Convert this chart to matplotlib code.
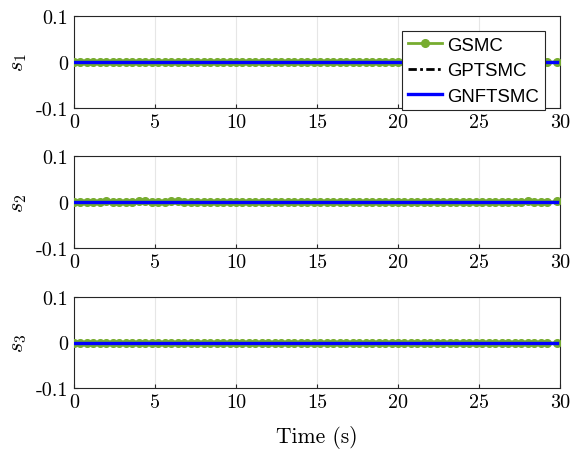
import matplotlib
matplotlib.use("Agg")
import matplotlib.pyplot as plt

plt.rcParams['mathtext.fontset'] = 'cm'
plt.rcParams['axes.unicode_minus'] = False

# ---- data ----
t = [0.0, 0.4, 0.8, 1.2, 1.6, 2.0, 2.4, 2.8, 3.2, 3.6, 4.0, 4.4, 4.8, 5.2, 5.6,
     6.0, 6.4, 6.8, 7.2, 7.6, 8.0, 8.4, 8.8, 9.2, 9.6, 10.0, 10.4, 10.8, 11.2, 11.6,
     12.0, 12.4, 12.8, 13.2, 13.6, 14.0, 14.4, 14.8, 15.2, 15.6, 16.0, 16.4, 16.8, 17.2, 17.6,
     18.0, 18.4, 18.8, 19.2, 19.6, 20.0, 20.4, 20.8, 21.2, 21.6, 22.0, 22.4, 22.8, 23.2, 23.6,
     24.0, 24.4, 24.8, 25.2, 25.6, 26.0, 26.4, 26.8, 27.2, 27.6, 28.0, 28.4, 28.8, 29.2, 29.8]

gsmc_s1 = [0.0, -0.0005, -0.0005, -0.0005, -0.0005, -0.0005, -0.0005, -0.0005, -0.0005, -0.0005,
           -0.0005, -0.0005, -0.0005, -0.0005, -0.0005, -0.0005, -0.0005, -0.0005, -0.0005, -0.0005,
           -0.0005, -0.0005, -0.0005, -0.0005, -0.0005, -0.0005, -0.0005, -0.0005, -0.0005, -0.0005,
           -0.0005, -0.0005, -0.0005, -0.0005, -0.0005, -0.0005, -0.0005, -0.0005, -0.0005, -0.0005,
           -0.0005, -0.0005, -0.0005, -0.0005, -0.0005, -0.0005, -0.0005, -0.0005, -0.0005, -0.0005,
           -0.0005, -0.0005, -0.0005, -0.0005, -0.0005, -0.0005, -0.0005, -0.0005, -0.0005, -0.0005,
           -0.0005, -0.0005, -0.0005, -0.0005, -0.0005, -0.0005, -0.0005, -0.0005, -0.0005, -0.0005,
           -0.0005, -0.0005, -0.0005, -0.0005, 0.0]

gsmc_s2 = [0.0, -0.001, -0.001, -0.0005, -0.0005, 0.002, -0.0005, -0.001, -0.0005, 0.0005,
           0.002, 0.0015, -0.0005, -0.001, -0.0005, 0.002, 0.0015, -0.0005, -0.001, -0.0005,
           -0.001, -0.0005, -0.001, -0.0005, -0.001, -0.0005, -0.001, -0.0005, -0.001, -0.0005,
           -0.001, -0.0005, -0.001, -0.0005, -0.001, -0.0005, -0.001, -0.0005, -0.001, -0.0005,
           -0.001, -0.0005, -0.001, -0.0005, -0.001, -0.0005, -0.001, -0.0005, -0.001, -0.0005,
           -0.001, -0.0005, -0.001, -0.0005, -0.001, -0.0005, -0.001, -0.0005, -0.001, -0.0005,
           -0.001, -0.0005, -0.001, -0.0005, -0.001, -0.0005, -0.001, -0.0005, -0.0005, 0.0005,
           0.002, -0.0005, -0.001, -0.0005, 0.0015]

gsmc_s3 = [0.0, -0.001, -0.001, -0.001, -0.001, -0.001, -0.001, -0.001, -0.001, -0.001,
           -0.001, -0.001, -0.001, -0.001, -0.001, -0.001, -0.001, -0.001, -0.001, -0.001,
           -0.001, -0.001, -0.001, -0.001, -0.001, -0.001, -0.001, -0.001, -0.001, -0.001,
           -0.001, -0.001, -0.001, -0.001, -0.001, -0.001, -0.001, -0.001, -0.001, -0.001,
           -0.001, -0.001, -0.001, -0.001, -0.001, -0.001, -0.001, -0.001, -0.001, -0.001,
           -0.001, -0.001, -0.001, -0.001, -0.001, -0.001, -0.001, -0.001, -0.001, -0.001,
           -0.001, -0.001, -0.001, -0.001, -0.001, -0.001, -0.001, -0.001, -0.001, -0.001,
           -0.001, -0.001, -0.001, -0.001, -0.001]

t_ref = [0.0, 29.8]
gptsmc = [[0.0, 0.0], [0.0, 0.0], [0.0, 0.0]]
gnftsmc = [[0.0, 0.0], [0.0, 0.0], [0.0, 0.0]]
gsmc = [gsmc_s1, gsmc_s2, gsmc_s3]

ylabels = [r'$s_1$', r'$s_2$', r'$s_3$']
xticks = [0, 5, 10, 15, 20, 25, 30]
yticks = [-0.1, 0, 0.1]
yticklabels = ['-0.1', '0', '0.1']
series_names = ['GSMC', 'GPTSMC', 'GNFTSMC']

# ---- figure ----
W, H = 577, 452
fig = plt.figure(figsize=(W / 100, H / 100), dpi=100)

boxes = [(17, 109), (157, 249), (298, 389)]
left, right = 74, 560
axc = '#262626'
green = '#77AC30'

for i, (top, bot) in enumerate(boxes):
    ax = fig.add_axes([left / W, 1 - bot / H, (right - left) / W, (bot - top) / H])
    l1, = ax.plot(t, gsmc[i], color=green, lw=2.0, marker='o', markersize=5.5,
                  markerfacecolor=green, markeredgecolor=green, label=series_names[0], zorder=3)
    l2, = ax.plot(t_ref, gptsmc[i], color='black', lw=2.0, ls=(0, (3, 1.2, 1, 1.2)),
                  label=series_names[1], zorder=4)
    l3, = ax.plot(t_ref, gnftsmc[i], color='#0000FF', lw=2.4, label=series_names[2], zorder=5)
    ax.set_xlim(0, 30)
    ax.set_ylim(-0.1, 0.1)
    ax.set_xticks(xticks)
    ax.set_xticklabels([str(v) for v in xticks], fontfamily='cmr10', fontsize=14.5)
    ax.set_yticks(yticks)
    ax.set_yticklabels(yticklabels, fontfamily='cmr10', fontsize=14.5)
    ax.grid(True, color='#e6e6e6', lw=0.8)
    ax.set_axisbelow(True)
    for s in ax.spines.values():
        s.set_color(axc)
        s.set_linewidth(0.8)
    ax.tick_params(direction='in', length=3, color=axc, labelcolor='black', pad=4)
    ax.set_ylabel(ylabels[i], fontsize=16, labelpad=5)
    if i == 0:
        leg = ax.legend(handles=[l1, l2, l3], loc='upper right',
                        bbox_to_anchor=(0.969, 0.837), borderaxespad=0,
                        prop={'family': 'Liberation Sans', 'size': 13.4},
                        handlelength=1.85, labelspacing=0.46, handletextpad=0.27,
                        borderpad=0.3, fancybox=False, framealpha=1, edgecolor=axc)
        leg.get_frame().set_linewidth(0.8)
        leg.set_zorder(10)
    if i == 2:
        ax.set_xlabel('Time (s)', fontfamily='cmr10', fontsize=15.5, labelpad=10)

fig.savefig('out.png', dpi=100)
